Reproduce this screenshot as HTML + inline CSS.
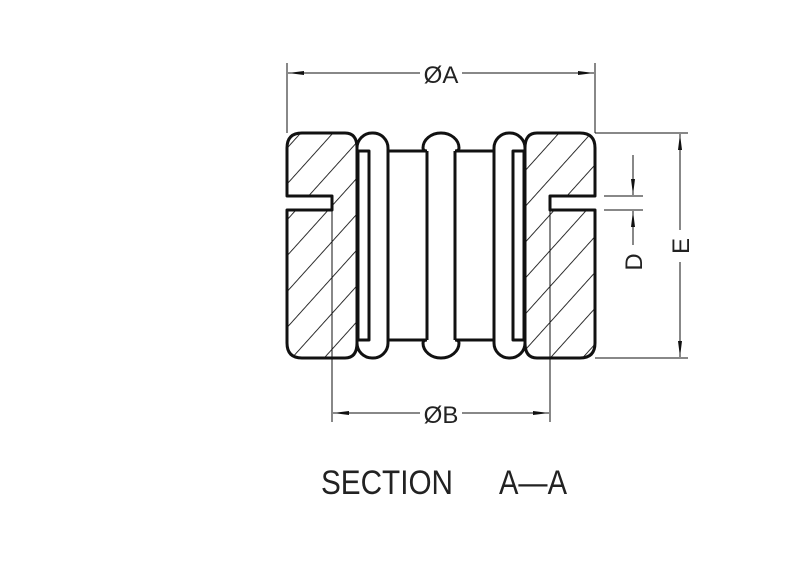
<!DOCTYPE html>
<html><head><style>html,body{margin:0;padding:0;background:#fff;}svg{display:block}</style></head>
<body>
<svg width="800" height="576" viewBox="0 0 800 576" xmlns="http://www.w3.org/2000/svg">
<defs>
<pattern id="h" patternUnits="userSpaceOnUse" width="24" height="24" patternTransform="rotate(-48)">
<line x1="0" y1="0" x2="24" y2="0" stroke="#111" stroke-width="1.8"/>
</pattern>
<marker id="ar" markerWidth="16" markerHeight="6" refX="16" refY="3" orient="auto" markerUnits="userSpaceOnUse"><path d="M0,1 L16,3 L0,5 z" fill="#111"/></marker>
</defs>
<g fill="none" stroke="#111" stroke-width="1">
<line x1="287" y1="63" x2="287" y2="133"/>
<line x1="595" y1="63" x2="595" y2="133"/>
<line x1="332" y1="200" x2="332" y2="422"/>
<line x1="550" y1="200" x2="550" y2="422"/>
<line x1="595" y1="133" x2="688" y2="133"/>
<line x1="595" y1="358" x2="688" y2="358"/>
<line x1="604" y1="196" x2="643" y2="196"/>
<line x1="604" y1="210" x2="643" y2="210"/>
<line x1="420" y1="73" x2="288" y2="73" marker-end="url(#ar)"/>
<line x1="462" y1="73" x2="594" y2="73" marker-end="url(#ar)"/>
<line x1="420" y1="413" x2="333" y2="413" marker-end="url(#ar)"/>
<line x1="462" y1="413" x2="549" y2="413" marker-end="url(#ar)"/>
<line x1="680" y1="230" x2="680" y2="134" marker-end="url(#ar)"/>
<line x1="680" y1="262" x2="680" y2="357" marker-end="url(#ar)"/>
<line x1="633" y1="155" x2="633" y2="195" marker-end="url(#ar)"/>
<line x1="633" y1="245" x2="633" y2="211" marker-end="url(#ar)"/>
</g>
<g stroke="#111" stroke-width="3" stroke-linejoin="round" fill="none">
<path d="M302,133 H345 Q357,133 357,148 V343 Q357,358 345,358 H302 Q287,358 287,343 V210 H332 V196 H287 V148 Q287,133 302,133 Z" fill="url(#h)"/>
<path d="M580,133 H537 Q525,133 525,148 V343 Q525,358 537,358 H580 Q595,358 595,343 V210 H550 V196 H595 V148 Q595,133 580,133 Z" fill="url(#h)"/>
<rect x="357" y="133" width="31" height="225" rx="15" fill="#fff"/>
<rect x="494" y="133" width="31" height="225" rx="15" fill="#fff"/>
<rect x="358" y="151" width="11" height="189" fill="#fff"/>
<rect x="513" y="151" width="11" height="189" fill="#fff"/>
<line x1="388" y1="151" x2="427" y2="151"/>
<line x1="388" y1="340" x2="427" y2="340"/>
<line x1="455" y1="151" x2="494" y2="151"/>
<line x1="455" y1="340" x2="494" y2="340"/>
<path d="M427,151 Q423,151 423,148 A18,15 0 0 1 459,148 Q459,151 455,151"/>
<path d="M427,340 Q423,340 423,343 A18,15 0 0 0 459,343 Q459,340 455,340"/>
<line x1="427" y1="151" x2="427" y2="340"/>
<line x1="455" y1="151" x2="455" y2="340"/>
</g>
<g font-family="Liberation Sans, sans-serif" fill="#222">
<text x="441" y="83" font-size="24" text-anchor="middle">ØA</text>
<text x="441" y="423" font-size="24" text-anchor="middle">ØB</text>
<text transform="translate(689,246) rotate(-90)" font-size="24" text-anchor="middle">E</text>
<text transform="translate(642,262) rotate(-90)" font-size="24" text-anchor="middle">D</text>
<text x="321" y="494" font-size="34" textLength="132" lengthAdjust="spacingAndGlyphs">SECTION</text>
<text x="499" y="494" font-size="34" textLength="68" lengthAdjust="spacingAndGlyphs">A—A</text>
</g>
</svg>
</body></html>
